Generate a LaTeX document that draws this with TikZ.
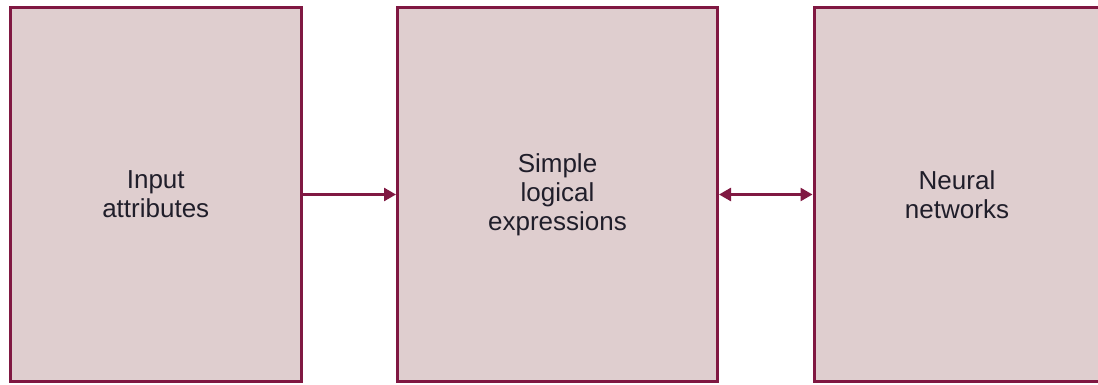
\documentclass[tikz,border=0pt]{standalone}
\usepackage{fontspec}
\setmainfont{Liberation Sans}
\usepackage{tikz}
\usetikzlibrary{arrows.meta,positioning}
\definecolor{boxline}{RGB}{128,24,66}
\definecolor{boxfill}{RGB}{223,206,207}
\definecolor{boxtext}{RGB}{32,30,42}

\begin{document}
\begin{tikzpicture}
[x=0.5pt,y=-0.5pt,
 block/.style={rectangle,draw=boxline,fill=boxfill,line width=1.5pt,minimum height=187pt,inner sep=0pt,align=center,text=boxtext,font=\fontsize{13pt}{14.5pt}\selectfont},
 link/.style={draw=boxline,line width=1.3pt}]
\useasboundingbox (0,0) rectangle (1098,385);
\clip (0,0) rectangle (1098,385);

\node[block,minimum width=145.75pt] (input) at (155.75,194.5) {Input\\attributes};
\node[block,minimum width=160pt] (logic) at (557.5,194.5) {Simple\\logical\\expressions};
\node[block,minimum width=143pt] (neural) at (957,194.5) {Neural\\networks};

\draw [link,-{Triangle[length=6pt,width=6.5pt]}] (input) -- (logic);
\draw [link,{Triangle[length=6pt,width=6.5pt]}-{Triangle[length=6pt,width=6.5pt]}] (logic) -- (neural);
\end{tikzpicture}
\end{document}
